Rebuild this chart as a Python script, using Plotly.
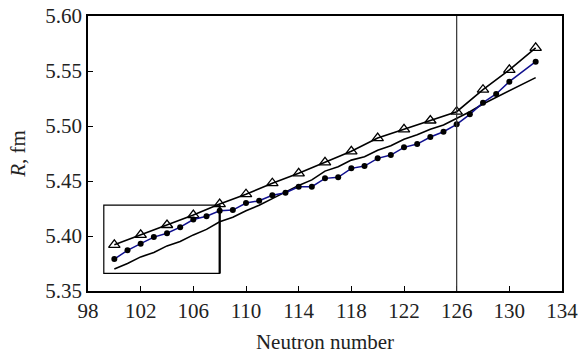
import plotly.graph_objects as go

# Neutron numbers and radii (fm)
n_dots = [100, 101, 102, 103, 104, 105, 106, 107, 108, 109, 110, 111, 112, 113, 114, 115,
          116, 117, 118, 119, 120, 121, 122, 123, 124, 125, 126, 127, 128, 129, 130, 132]
r_dots = [5.379, 5.387, 5.393, 5.399, 5.4025, 5.408, 5.415, 5.418, 5.423, 5.4236, 5.430,
          5.432, 5.437, 5.4394, 5.4448, 5.4448, 5.4524, 5.4533, 5.4615, 5.4636, 5.4706,
          5.4736, 5.4806, 5.4836, 5.490, 5.4948, 5.5015, 5.5106, 5.5212, 5.5291, 5.5403,
          5.5585]

n_tri = [100, 102, 104, 106, 108, 110, 112, 114, 116, 118, 120, 122, 124, 126, 128, 130, 132]
r_tri = [5.392, 5.401, 5.410, 5.419, 5.429, 5.438, 5.448, 5.457, 5.467, 5.477, 5.489,
         5.497, 5.505, 5.513, 5.533, 5.551, 5.571]

n_calc = list(range(100, 133))
r_calc = [5.370, 5.375, 5.381, 5.385, 5.391, 5.395, 5.401, 5.406, 5.413, 5.417, 5.423,
          5.428, 5.434, 5.440, 5.446, 5.451, 5.459, 5.463, 5.469, 5.472, 5.478, 5.482,
          5.488, 5.492, 5.497, 5.501, 5.507, 5.513, 5.520, 5.526, 5.532, 5.538, 5.544]

x_ticks = [98, 102, 106, 110, 114, 118, 122, 126, 130, 134]
y_ticks = [5.35, 5.40, 5.45, 5.50, 5.55, 5.60]

# framed region and shell-closure marker
box_n = (99.2, 108.0)
box_r = (5.366, 5.428)
shell_n = 126

FONT = "Liberation Serif"
TXT = "#222222"

fig = go.Figure()

fig.add_trace(go.Scatter(
    x=n_calc, y=r_calc, mode="lines",
    line=dict(color="black", width=1.6), showlegend=False))

fig.add_trace(go.Scatter(
    x=n_tri, y=r_tri, mode="lines+markers",
    line=dict(color="black", width=1.6),
    marker=dict(symbol="triangle-up-open", size=10, color="black",
                line=dict(width=1.3)),
    showlegend=False))

fig.add_trace(go.Scatter(
    x=n_dots, y=r_dots, mode="lines+markers",
    line=dict(color="#10108f", width=1.5),
    marker=dict(symbol="circle", size=6, color="black"),
    showlegend=False))

fig.add_shape(type="rect", xref="x", yref="y",
              x0=box_n[0], x1=box_n[1], y0=box_r[0], y1=box_r[1],
              line=dict(color="black", width=1.2), layer="below")
fig.add_shape(type="line", xref="x", yref="y",
              x0=box_n[1], x1=box_n[1], y0=box_r[0], y1=box_r[1],
              line=dict(color="black", width=2.2))
fig.add_shape(type="line", xref="x", yref="y",
              x0=shell_n, x1=shell_n, y0=y_ticks[0], y1=y_ticks[-1],
              line=dict(color="#333333", width=1.2))

axis_common = dict(
    showline=True, linecolor="black", linewidth=1.5, mirror=True,
    ticks="inside", ticklen=5, tickwidth=1.2, tickcolor="black",
    showgrid=False, zeroline=False, automargin=False,
    ticklabeloverflow="allow",
    tickfont=dict(family=FONT, size=21, color=TXT),
)

fig.update_xaxes(range=[98, 134], tickvals=x_ticks, ticktext=[str(v) for v in x_ticks],
                 title=dict(text="Neutron number", font=dict(family=FONT, size=21, color=TXT),
                            standoff=12),
                 **axis_common)
fig.update_yaxes(range=[5.35, 5.60], tickvals=y_ticks, ticktext=[f"{v:.2f}" for v in y_ticks],
                 title=dict(text="<i>R</i>, fm", font=dict(family=FONT, size=21, color=TXT),
                            standoff=14),
                 **axis_common)

fig.update_layout(
    width=578, height=354,
    margin=dict(l=88, r=16, t=16, b=63, autoexpand=False),
    paper_bgcolor="white", plot_bgcolor="white",
)

fig.write_html("out.html")
